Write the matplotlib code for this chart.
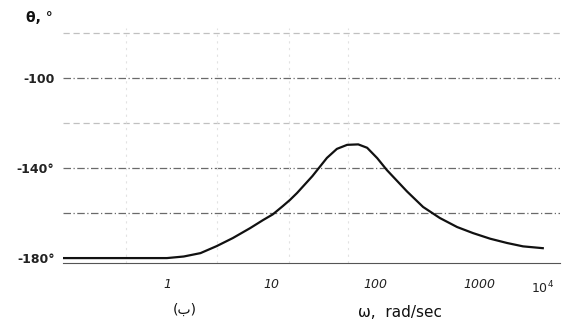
import numpy as np
import matplotlib.pyplot as plt

# phase curve (omega in rad/sec, theta in degrees)
omega = [0.1, 1.0, 1.45, 2.1, 3.0, 4.3, 6.3, 8.4, 10.4, 13, 15.2, 17.8, 25, 34.5, 43,
         54, 69, 84, 105, 130, 203, 290, 420, 615, 875, 1280, 1860, 2650, 4100]
theta = [-180, -180, -179.3, -177.8, -174.7, -171.1, -166.7, -163.1, -160.6, -156.9,
         -154.2, -151.1, -143.6, -135.5, -131.5, -129.7, -129.5, -131, -135.6, -140.9,
         -150.4, -157.3, -162.2, -166.2, -168.9, -171.4, -173.3, -174.8, -175.6]

ytick_vals = [-100, -140, -180]
ytick_labels = ["-100", "-140\u00b0", "-180\u00b0"]
xtick_vals = [1, 10, 100, 1000]
xtick_labels = ["1", "10", "100", "1000"]
grid_dark = [-100, -140, -160]
grid_light = [-80, -120]
vgrid = [0.4, 3, 15, 55]

plt.rcParams['font.family'] = ['DejaVu Sans']
fig = plt.figure(figsize=(5.72, 3.27), dpi=100)
ax = fig.add_axes([0.110, 0.197, 0.869, 0.716])

for g in grid_dark:
    ax.axhline(g, color='#6a6a6a', lw=0.9, ls=(0, (6, 2, 1, 2)), zorder=1)
for g in grid_light:
    ax.axhline(g, color='#c0c0c0', lw=0.9, ls=(0, (5, 3)), zorder=1)
for v in vgrid:
    ax.axvline(v, color='#e2e2e2', lw=0.8, ls=(0, (2, 4)), zorder=1)

ax.plot(omega, theta, color='#111111', lw=1.6, zorder=3)

ax.set_xscale('log')
ax.set_xlim(0.1, 6000)
ax.set_ylim(-182, -78)

ax.set_xticks(xtick_vals)
ax.set_xticklabels(xtick_labels, fontsize=9, style='italic')
ax.xaxis.set_minor_locator(plt.NullLocator())
ax.set_yticks(ytick_vals)
ax.set_yticklabels(ytick_labels, fontsize=9, fontweight='bold')
ax.tick_params(axis='x', length=0, pad=11, colors='#222222')
ax.tick_params(axis='y', length=0, pad=6, colors='#222222')

for s in ['top', 'right', 'left']:
    ax.spines[s].set_visible(False)
ax.spines['bottom'].set_color('#555555')
ax.spines['bottom'].set_linewidth(0.8)

ax.text(0.965, -0.075, "$10^4$", transform=ax.transAxes, fontsize=9,
        ha='center', va='top', color='#222222')
fig.text(0.045, 0.945, "\u03b8, \u00b0", fontsize=10, fontweight='bold',
         ha='left', va='center', color='#111111')
fig.text(0.323, 0.052, "(\u0628)", fontsize=10, ha='center', va='center', color='#111111')
fig.text(0.70, 0.045, "\u03c9,  rad/sec", fontsize=11, ha='center', va='center', color='#111111')

fig.savefig("out.png", dpi=100)
